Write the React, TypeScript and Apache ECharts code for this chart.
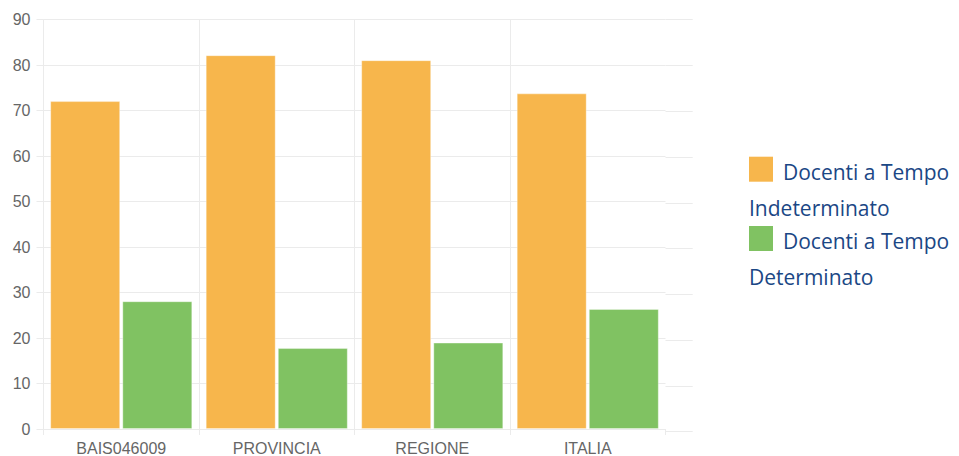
import React, { useEffect, useRef } from "react";
import * as echarts from "echarts";

const categories = ["BAIS046009", "PROVINCIA", "REGIONE", "ITALIA"];
const indeterminato = [72.1, 82.2, 81.1, 73.8];
const determinato = [28.1, 17.8, 19.0, 26.4];
const seriesNames = ["Docenti a Tempo Indeterminato", "Docenti a Tempo Determinato"];
const colors = ["#F7B64C", "#80C262"];

const gridColor = "#ebebeb";

export default function App() {
  const ref = useRef<HTMLDivElement>(null);
  useEffect(() => {
    document.body.style.margin = "0";
    const chart = echarts.init(ref.current!, null, { renderer: "svg" });
    const legendFont = '"Open Sans", "Noto Sans", sans-serif';
    const legendColor = "#1B4785";
    const legendItem = (idx: number, top: number) => {
      const parts = seriesNames[idx].split(" ");
      const first = parts.slice(0, 3).join(" ");
      const second = parts.slice(3).join(" ");
      return {
        type: "group",
        left: 749,
        top,
        children: [
          { type: "rect", shape: { x: 0, y: 0, width: 24, height: 25 }, style: { fill: colors[idx] } },
          {
            type: "text",
            x: 34,
            y: 15,
            style: { text: first, font: `21px ${legendFont}`, fill: legendColor, textVerticalAlign: "middle" },
          },
          {
            type: "text",
            x: 0,
            y: 51,
            style: { text: second, font: `21px ${legendFont}`, fill: legendColor, textVerticalAlign: "middle" },
          },
        ],
      };
    };
    chart.setOption({
      animation: false,
      grid: [
        { left: 43.5, right: 293.5, top: 19.7, bottom: 24.3 },
        { left: 665.5, right: 266.3, top: 19.7, bottom: 24.3 },
      ],
      xAxis: [
        {
          type: "category",
          gridIndex: 0,
          data: categories,
          axisLine: { show: true, lineStyle: { color: gridColor } },
          axisTick: { show: true, length: 6, lineStyle: { color: gridColor } },
          axisLabel: { color: "#666", fontSize: 16, margin: 11, fontFamily: '"Liberation Sans", Arial, sans-serif' },
          splitLine: { show: true, showMinLine: false, showMaxLine: false, lineStyle: { color: gridColor } },
        },
        { type: "value", gridIndex: 1, show: false, min: 0, max: 1 },
      ],
      yAxis: [
        {
          type: "value",
          gridIndex: 0,
          min: 0,
          max: 90,
          interval: 10,
          axisLine: { show: true, lineStyle: { color: gridColor } },
          axisTick: { show: true, length: 7, lineStyle: { color: gridColor } },
          axisLabel: { color: "#666", fontSize: 16, margin: 13, fontFamily: '"Liberation Sans", Arial, sans-serif' },
          splitLine: { show: true, lineStyle: { color: gridColor } },
        },
        {
          type: "value",
          gridIndex: 1,
          min: 0,
          max: 90,
          interval: 10,
          axisLine: { show: false },
          axisTick: { show: false },
          axisLabel: { show: false },
          splitLine: { show: true, lineStyle: { color: gridColor } },
        },
      ],
      series: [
        {
          name: seriesNames[0],
          type: "bar",
          xAxisIndex: 0,
          yAxisIndex: 0,
          data: indeterminato,
          barWidth: 70,
          barGap: "3%",
          itemStyle: { color: colors[0], borderColor: "rgba(255,255,255,0.35)", borderWidth: 1 },
        },
        {
          name: seriesNames[1],
          type: "bar",
          xAxisIndex: 0,
          yAxisIndex: 0,
          data: determinato,
          barWidth: 70,
          barGap: "3%",
          itemStyle: { color: colors[1], borderColor: "rgba(255,255,255,0.35)", borderWidth: 1 },
        },
      ],
      graphic: [legendItem(0, 156.7), legendItem(1, 226)],
    });
    return () => chart.dispose();
  }, []);
  return <div ref={ref} style={{ width: 959, height: 456 }} />;
}
